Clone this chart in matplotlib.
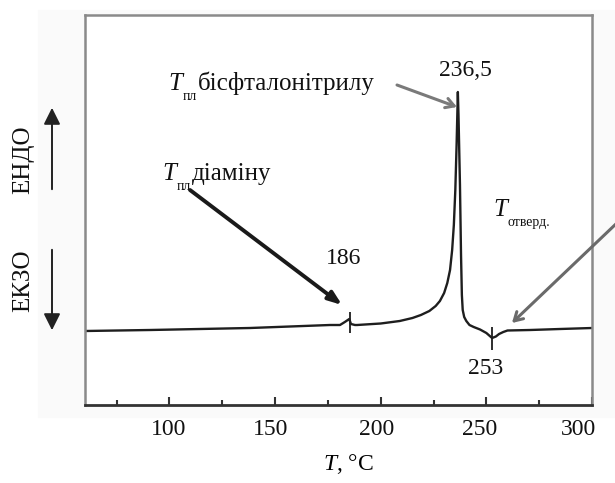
import matplotlib
matplotlib.use("Agg")
import matplotlib.pyplot as plt
from matplotlib.patches import Rectangle, FancyArrowPatch
from matplotlib.transforms import ScaledTranslation

plt.rcParams['font.family'] = ['Liberation Serif', 'DejaVu Serif']
plt.rcParams['mathtext.fontset'] = 'custom'
plt.rcParams['mathtext.rm'] = 'Liberation Serif'
plt.rcParams['mathtext.it'] = 'Liberation Serif:italic'

# DSC curve (temperature, heat flow in arbitrary units)
temp = [60, 90.8, 138.1, 176.0, 180.7, 183.0, 185.1, 185.9, 187.8, 188.8,
        200.0, 209.0, 215.0, 219.0, 223.0, 226.0, 228.0, 230.0, 231.5, 232.8,
        233.8, 234.6, 235.3, 235.9, 236.5, 236.8, 237.5, 238.0, 238.4, 238.8,
        239.5, 240.5, 242.0, 244.0, 247.0, 250.0, 252.7, 254.5, 256.0, 258.0,
        260.0, 270.7, 284.9, 300]
heat = [74, 75, 77, 80, 80, 83, 86, 81, 80, 80,
        81.5, 84, 87, 90, 94, 99, 104, 112, 122, 135,
        155, 180, 215, 260, 313, 290, 220, 150, 110, 95,
        88, 84, 80, 78, 75.5, 72, 67, 68.5, 71, 73,
        74.5, 75, 76, 77]

peak_marks = [185.3, 252.7]
peak_mark_lo = [72, 55]
peak_mark_hi = [93, 78]

xticks_major = [100, 150, 200, 250, 300]
xticks_minor = [75, 125, 175, 225, 275]
label_shift_px = [-1, -5, -4, -7, -13]

fig = plt.figure(figsize=(6.15, 4.83), dpi=100)
fig.patches.append(Rectangle((38/615, 1-417/483), 1, (417-10)/483,
                             transform=fig.transFigure, color='#fafafa', zorder=-10))
ax = fig.add_axes([85/615, 1-405/483, 507/615, 390/483])
ax.set_facecolor('white')

ax.plot(temp, heat, color='#1e1e1e', lw=1.7, solid_joinstyle='round')
ax.vlines(peak_marks, peak_mark_lo, peak_mark_hi, color='#1e1e1e', lw=1.3)

ax.set_xlim(60, 300)
ax.set_ylim(0, 390)
ax.set_yticks([])
ax.set_xticks(xticks_major)
ax.set_xticks(xticks_minor, minor=True)
ax.tick_params(axis='x', which='both', direction='in', width=1.5, colors='#333333',
               labelcolor='#111111', labelsize=17, pad=10)
ax.tick_params(axis='x', which='major', length=6)
ax.tick_params(axis='x', which='minor', length=3.5)
for lab, dx in zip(ax.get_xticklabels(), label_shift_px):
    lab.set_transform(lab.get_transform() + ScaledTranslation(dx/100, 0, fig.dpi_scale_trans))
for s in ['top', 'left', 'right']:
    ax.spines[s].set_color('#8a8a8a')
    ax.spines[s].set_linewidth(1.8)
ax.spines['bottom'].set_color('#333333')
ax.spines['bottom'].set_linewidth(2)

ax.set_xlabel(r'$T$, °C', fontsize=17)
ax.xaxis.set_label_coords(0.52, -0.12)


def subscript_label(x, y, sub, main, size=18):
    t = ax.text(x, y, 'T', fontsize=size, style='italic', ha='left',
                va='baseline', color='#111111')
    s = ax.annotate(sub, xy=(1, 0), xycoords=t, xytext=(0.5, -3.5),
                    textcoords='offset points', fontsize=size*0.55,
                    ha='left', va='baseline', color='#111111')
    if main:
        ax.annotate(main, xy=(1, 0), xycoords=(s, t), xytext=(0.5, 0),
                    textcoords='offset points', fontsize=size,
                    ha='left', va='bottom', color='#111111')


# annotations
ax.text(239.9, 335, '236,5', fontsize=17, ha='center', va='center', color='#111111')
ax.text(182.6, 147, '186', fontsize=17, ha='center', va='center', color='#111111')
ax.text(249.8, 37, '253', fontsize=17, ha='center', va='center', color='#111111')
subscript_label(99.3, 315, 'пл', 'бісфталонітрилу')
subscript_label(96.5, 225, 'пл', 'діаміну')
subscript_label(253.1, 189, 'отверд.', '')

ax.annotate('', xy=(236.1, 298), xytext=(207.7, 320),
            arrowprops=dict(arrowstyle='->,head_length=0.6,head_width=0.35',
                            color='#7a7a7a', lw=2.2, shrinkA=0, shrinkB=0))
ax.annotate('', xy=(181.7, 100), xytext=(109.7, 215),
            arrowprops=dict(arrowstyle='-|>,head_length=0.8,head_width=0.3',
                            color='#1a1a1a', lw=2.8, shrinkA=0, shrinkB=0))
ax.annotate('', xy=(262.1, 82), xytext=(313.3, 185), annotation_clip=False,
            arrowprops=dict(arrowstyle='->,head_length=0.6,head_width=0.35',
                            color='#6a6a6a', lw=2.2, shrinkA=0, shrinkB=0))

# ENDO / EXO labels with arrows
fig.text(23/615, 1-160/483, 'ЕНДО', rotation=90, fontsize=18, ha='center',
         va='center', color='#111111')
fig.text(23/615, 1-281/483, 'ЕКЗО', rotation=90, fontsize=18, ha='center',
         va='center', color='#111111')
fig.patches.append(FancyArrowPatch((52/615, 1-192/483), (52/615, 1-105/483),
                                   transform=fig.transFigure,
                                   arrowstyle='-|>,head_length=5,head_width=2.5',
                                   color='#222222', lw=1.4, mutation_scale=2))
fig.patches.append(FancyArrowPatch((52/615, 1-247/483), (52/615, 1-333/483),
                                   transform=fig.transFigure,
                                   arrowstyle='-|>,head_length=5,head_width=2.5',
                                   color='#222222', lw=1.4, mutation_scale=2))

fig.savefig('out.png', dpi=100, facecolor='white')
